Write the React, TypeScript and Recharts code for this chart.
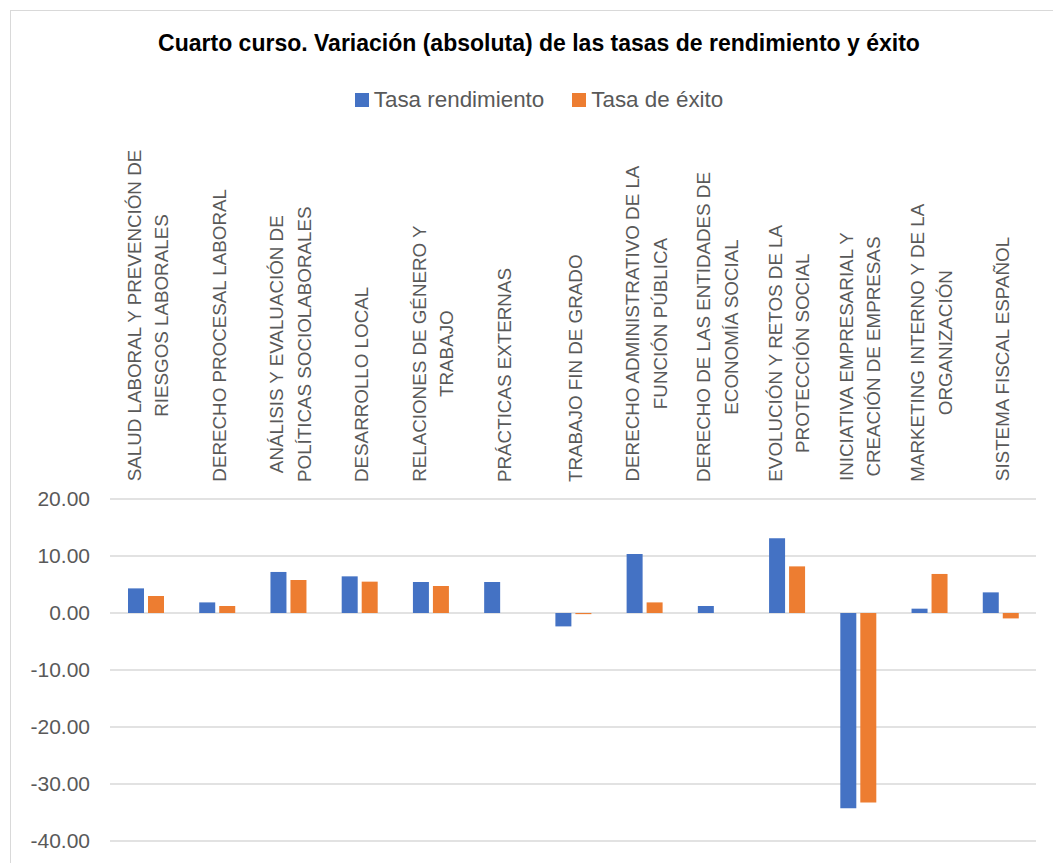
import { BarChart, Bar, XAxis, YAxis, CartesianGrid, Legend } from 'recharts';

// category labels, split into the lines used in the original chart
const categoryLines: string[][] = [
  ['SALUD LABORAL Y PREVENCIÓN DE', 'RIESGOS LABORALES'],
  ['DERECHO PROCESAL LABORAL'],
  ['ANÁLISIS Y EVALUACIÓN DE', 'POLÍTICAS SOCIOLABORALES'],
  ['DESARROLLO LOCAL'],
  ['RELACIONES DE GÉNERO Y', 'TRABAJO'],
  ['PRÁCTICAS EXTERNAS'],
  ['TRABAJO FIN DE GRADO'],
  ['DERECHO ADMINISTRATIVO DE LA', 'FUNCIÓN PÚBLICA'],
  ['DERECHO DE LAS ENTIDADES DE', 'ECONOMÍA SOCIAL'],
  ['EVOLUCIÓN Y RETOS DE LA', 'PROTECCIÓN SOCIAL'],
  ['INICIATIVA EMPRESARIAL Y', 'CREACIÓN DE EMPRESAS'],
  ['MARKETING INTERNO Y DE LA', 'ORGANIZACIÓN'],
  ['SISTEMA FISCAL ESPAÑOL'],
];

const tasaRendimiento = [4.32, 1.86, 7.2, 6.43, 5.44, 5.44, -2.35, 10.36, 1.23, 13.1, -34.24, 0.76, 3.62];
const tasaExito = [2.98, 1.23, 5.79, 5.5, 4.74, 0, -0.2, 1.86, 0, 8.18, -33.26, 6.85, -0.95];

const yTicks = [-40, -30, -20, -10, 0, 10, 20];
const seriesOrder = ['rendimiento', 'exito'];

const data = categoryLines.map((lines, i) => ({
  name: lines.join(' '),
  rendimiento: tasaRendimiento[i],
  exito: tasaExito[i],
}));

const FONT = '"Liberation Sans", Arial, sans-serif';
const LABEL_SIZE = 18.8;
const LINE_GAP = 27.5;

let measureCtx: CanvasRenderingContext2D | null = null;
const measure = (text: string) => {
  if (!measureCtx) {
    measureCtx = document.createElement('canvas').getContext('2d');
  }
  if (!measureCtx) return text.length * LABEL_SIZE * 0.6;
  measureCtx.font = `${LABEL_SIZE}px "Liberation Sans"`;
  return measureCtx.measureText(text).width;
};

const CategoryTick = (props: any) => {
  const { x, y, index } = props;
  const lines = categoryLines[index] || [];
  const maxLen = Math.max(...lines.map(measure));
  const n = lines.length;
  return (
    <g transform={`translate(${x + 2},${y}) rotate(-90)`}>
      {lines.map((line, i) => (
        <text
          key={i}
          x={maxLen / 2}
          y={(i - (n - 1) / 2) * LINE_GAP}
          dy="0.36em"
          textAnchor="middle"
          fill="#595959"
          fontFamily={FONT}
          fontSize={LABEL_SIZE}
        >
          {line}
        </text>
      ))}
    </g>
  );
};

const renderLegend = (props: any) => {
  const payload = [...(props.payload || [])].sort(
    (a: any, b: any) => seriesOrder.indexOf(a.dataKey) - seriesOrder.indexOf(b.dataKey)
  );
  return (
    <div
      style={{
        display: 'flex',
        justifyContent: 'center',
        gap: 28,
        fontFamily: FONT,
        fontSize: 22.4,
        color: '#595959',
      }}
    >
      {payload.map((entry: any) => (
        <span key={entry.value} style={{ display: 'flex', alignItems: 'center' }}>
          <span style={{ width: 14, height: 14, background: entry.color, marginRight: 5, display: 'inline-block' }} />
          {entry.value}
        </span>
      ))}
    </div>
  );
};

export default function App() {
  return (
    <div
      style={{
        position: 'absolute',
        left: 0,
        top: 0,
        width: 1053,
        height: 863,
        background: '#ffffff',
        overflow: 'hidden',
      }}
    >
      <div style={{ position: 'absolute', left: 10, top: 10, width: 1, height: 853, background: '#d9d9d9' }} />
      <div style={{ position: 'absolute', left: 10, top: 10, width: 1043, height: 1, background: '#d9d9d9' }} />
      <div
        style={{
          position: 'absolute',
          left: 0,
          top: 30,
          width: 1078,
          textAlign: 'center',
          fontFamily: FONT,
          fontWeight: 'bold',
          fontSize: 23,
          color: '#000000',
        }}
      >
        Cuarto curso. Variación (absoluta) de las tasas de rendimiento y éxito
      </div>
      <BarChart
        width={1053}
        height={863}
        data={data}
        margin={{ top: 130, right: 17, bottom: 22, left: 0 }}
        barSize={16}
        barGap={4}
      >
        <CartesianGrid horizontal vertical={false} stroke="#d9d9d9" strokeWidth={1.5} />
        <XAxis
          dataKey="name"
          orientation="top"
          xAxisId={0}
          height={369}
          axisLine={false}
          tickLine={false}
          tickSize={6}
          tickMargin={11}
          interval={0}
          tick={<CategoryTick />}
        />
        <YAxis
          domain={[-40, 20]}
          ticks={yTicks}
          width={110}
          axisLine={false}
          tickLine={false}
          tickSize={6}
          tickMargin={14}
          interval={0}
          tickFormatter={(v: number) => v.toFixed(2)}
          tick={{ fill: '#595959', fontFamily: FONT, fontSize: 21 }}
        />
        <Legend
          verticalAlign="middle"
          align="center"
          content={renderLegend}
          wrapperStyle={{ top: 87, left: 0, width: 1078 }}
        />
        <Bar dataKey="rendimiento" name="Tasa rendimiento" fill="#4472C4" isAnimationActive={false} />
        <Bar dataKey="exito" name="Tasa de éxito" fill="#ED7D31" isAnimationActive={false} />
      </BarChart>
    </div>
  );
}
